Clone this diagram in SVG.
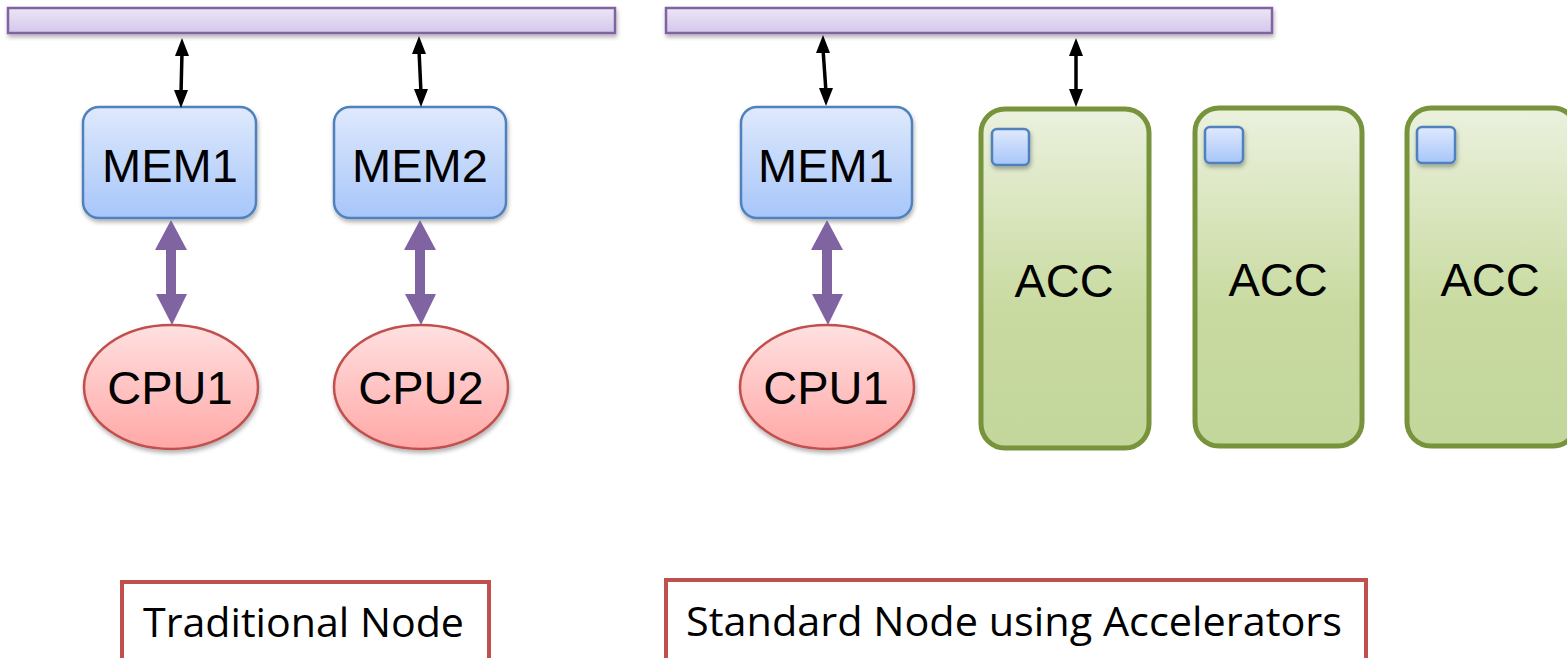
<svg xmlns="http://www.w3.org/2000/svg" width="1567" height="658" viewBox="0 0 1567 658">
<defs>
<linearGradient id="gBus" x1="0" y1="0" x2="0" y2="1"><stop offset="0" stop-color="#ece6f6"/><stop offset="1" stop-color="#d3c7ea"/></linearGradient>
<linearGradient id="gMem" x1="0" y1="0" x2="0" y2="1"><stop offset="0" stop-color="#dfe9fc"/><stop offset="1" stop-color="#a7c6fa"/></linearGradient>
<linearGradient id="gCpu" x1="0" y1="0" x2="0" y2="1"><stop offset="0" stop-color="#ffe0e0"/><stop offset="1" stop-color="#ffa8a6"/></linearGradient>
<linearGradient id="gAcc" x1="0" y1="0" x2="0" y2="1"><stop offset="0" stop-color="#ebf1de"/><stop offset="0.6" stop-color="#c8da9f"/><stop offset="1" stop-color="#c3d69b"/></linearGradient>
<filter id="sh" x="-10%" y="-10%" width="130%" height="140%"><feDropShadow dx="1" dy="3" stdDeviation="2" flood-color="#000" flood-opacity="0.3"/></filter>
</defs>
<style>
.bus{fill:url(#gBus);stroke:#8064a2;stroke-width:2.5}
.mem{fill:url(#gMem);stroke:#4f81bd;stroke-width:2.5}
.cpu{fill:url(#gCpu);stroke:#c0504d;stroke-width:2.5}
.acc{fill:url(#gAcc);stroke:#77933c;stroke-width:5}
.sq{fill:url(#gMem);stroke:#4f81bd;stroke-width:2.5}
.lbl{fill:#fff;stroke:#c0504d;stroke-width:4}
.t{font-family:"Liberation Sans",Arial,sans-serif;font-size:47px;fill:#000;text-anchor:middle}
.c{font-family:"Open Sans","Noto Sans",sans-serif;font-size:41px;fill:#000}
.blk{stroke:#000;stroke-width:3.5;fill:none}
.head{fill:#000}
.pur{fill:#8064a2}
</style>
<g id="bus1"><rect class="bus" x="8" y="8" width="607" height="25" filter="url(#sh)"/></g>
<g id="bus2"><rect class="bus" x="666" y="8" width="606" height="25" filter="url(#sh)"/></g>
<g id="mem1a"><rect class="mem" x="83" y="107" width="173" height="111" rx="16" filter="url(#sh)"/><text class="t" x="170" y="182">MEM1</text></g>
<g id="mem2"><rect class="mem" x="334" y="107" width="172" height="111" rx="16" filter="url(#sh)"/><text class="t" x="420" y="182">MEM2</text></g>
<g id="cpu1a"><ellipse class="cpu" cx="171" cy="387" rx="87" ry="62" filter="url(#sh)"/><text class="t" x="170" y="404">CPU1</text></g>
<g id="cpu2"><ellipse class="cpu" cx="421" cy="387" rx="87" ry="62" filter="url(#sh)"/><text class="t" x="421" y="404">CPU2</text></g>
<g id="mem1b"><rect class="mem" x="741" y="107" width="171" height="111" rx="16" filter="url(#sh)"/><text class="t" x="826" y="182">MEM1</text></g>
<g id="cpu1b"><ellipse class="cpu" cx="827" cy="387" rx="87" ry="62" filter="url(#sh)"/><text class="t" x="826" y="404">CPU1</text></g>
<g id="acc1"><rect class="acc" x="981" y="109" width="168" height="339" rx="24"/><rect class="sq" x="992" y="129" width="37" height="36" rx="5" filter="url(#sh)"/><text class="t" x="1064" y="297">ACC</text></g>
<g id="acc2"><rect class="acc" x="1195" y="108" width="167" height="338" rx="24"/><rect class="sq" x="1205" y="127" width="38" height="36" rx="5" filter="url(#sh)"/><text class="t" x="1278" y="296">ACC</text></g>
<g id="acc3"><rect class="acc" x="1407" y="108" width="170" height="338" rx="24"/><rect class="sq" x="1417" y="127" width="38" height="36" rx="5" filter="url(#sh)"/><text class="t" x="1490" y="296">ACC</text></g>
<g id="label1"><rect class="lbl" x="122" y="582" width="367" height="90"/><text class="c" x="143" y="637" textLength="321" lengthAdjust="spacingAndGlyphs">Traditional Node</text></g>
<g id="label2"><rect class="lbl" x="666" y="580" width="700" height="92"/><text class="c" x="686" y="636" textLength="656" lengthAdjust="spacingAndGlyphs">Standard Node using Accelerators</text></g>
<g id="connectors">
<line class="blk" x1="182" y1="52" x2="181" y2="94"/>
<path class="head" d="M182,38 L189,56 L175,56 Z M181,108 L174,90 L188,90 Z"/>
<line class="blk" x1="419" y1="50" x2="421" y2="93"/>
<path class="head" d="M419,36 L426,54 L412,54 Z M421,107 L414,89 L428,89 Z"/>
<line class="blk" x1="823" y1="49" x2="826" y2="92"/>
<path class="head" d="M823,35 L830,53 L816,53 Z M826,106 L819,88 L833,88 Z"/>
<line class="blk" x1="1076" y1="52" x2="1076" y2="93"/>
<path class="head" d="M1076,38 L1083,56 L1069,56 Z M1076,107 L1069,89 L1083,89 Z"/>
<path class="pur" d="M171,220 L187,250 L176,250 L176,294 L187,294 L172,325 L156,294 L166,294 L166,250 L155,250 Z"/>
<path class="pur" d="M420,220 L436,250 L425,250 L425,294 L436,294 L421,325 L405,294 L415,294 L415,250 L404,250 Z"/>
<path class="pur" d="M827,220 L843,250 L832,250 L832,294 L843,294 L828,325 L812,294 L822,294 L822,250 L811,250 Z"/>
</g>
</svg>
